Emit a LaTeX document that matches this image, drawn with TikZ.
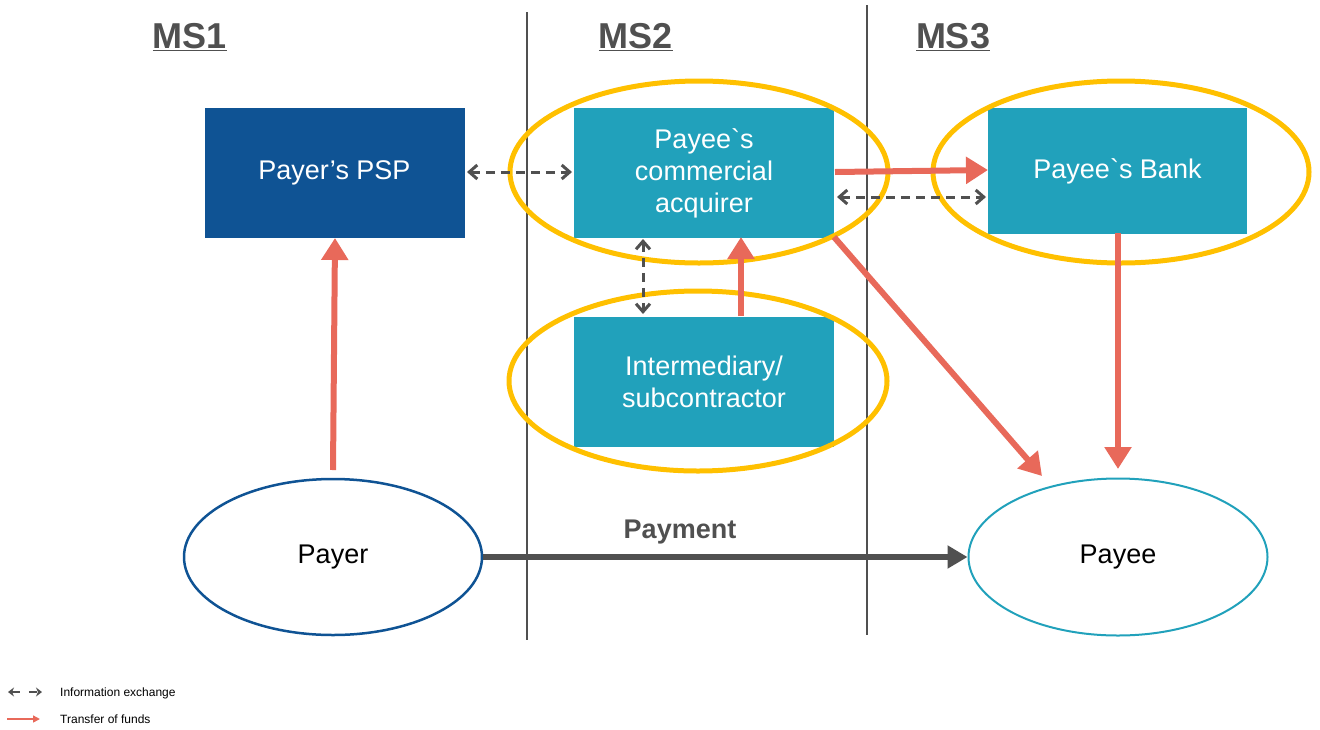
\documentclass[tikz,border=0pt]{standalone}
\usepackage{fontspec}
\setmainfont{Liberation Sans}
\newfontfamily\rawfont{Liberation Sans}
\usetikzlibrary{arrows.meta,shapes.geometric}
\definecolor{dblue}{HTML}{0F5394}
\definecolor{teal}{HTML}{21A1BB}
\definecolor{ylw}{HTML}{FFC000}
\definecolor{fund}{HTML}{E8695A}
\definecolor{dgray}{HTML}{505050}
\newcommand{\bq}{{\rawfont\symbol{96}}}
\begin{document}
\begin{tikzpicture}[x=1pt,y=-1pt,
  box/.style={draw=none,minimum width=260pt,minimum height=130pt,text=white,font=\fontsize{27}{32}\selectfont,align=center,inner sep=0pt},
  ring/.style={draw=ylw,line width=5pt},
  fundarrow/.style={draw=fund,line width=6pt,-{Triangle[length=22pt,width=26pt]}},
  infoarrow/.style={draw=dgray,line width=3pt,dashed,dash pattern=on 9pt off 6pt,{Straight Barb[length=8pt,width=14pt]}-{Straight Barb[length=8pt,width=14pt]}},
  header/.style={text=dgray,font=\bfseries\fontsize{36}{40}\selectfont,inner sep=0pt},
  sep/.style={draw=dgray,line width=1.5pt}
]
\useasboundingbox (0,0) rectangle (1320,729);
% separators
\draw[sep] (527,12) -- (527,640);
\draw[sep] (867,5) -- (867,635);
% headers
\node[header,anchor=base] (ms1) at (190,48) {\underline{MS1}};
\node[header,anchor=base] (ms2) at (636,48) {\underline{MS2}};
\node[header,anchor=base] (ms3) at (953,48) {\underline{MS3}};
% boxes
\node[box,fill=dblue] (psp) at (334.5,172.5) {Payer’s PSP};
\node[box,fill=teal] (acq) at (704,173) {Payee\bq s\\commercial\\acquirer};
\node[box,fill=teal,minimum width=259pt,minimum height=126pt] (bank) at (1117.5,171) {Payee\bq s Bank};
\node[box,fill=teal] (int) at (704,381.5) {Intermediary/\\subcontractor};
% yellow ellipses
\draw[ring] (699,172) ellipse [x radius=189, y radius=91];
\draw[ring] (1121,172) ellipse [x radius=188, y radius=91];
\draw[ring] (698,381) ellipse [x radius=189, y radius=90];
% payer/payee
\node[draw=dblue,line width=2.5pt,ellipse,minimum width=298pt,minimum height=156pt,inner sep=0pt,font=\fontsize{27}{32}\selectfont] (payer) at (333,557) {Payer};
\node[draw=teal,line width=2pt,ellipse,minimum width=299pt,minimum height=157pt,inner sep=0pt,font=\fontsize{27}{32}\selectfont] (payee) at (1118,557) {Payee};
% coordinates
\coordinate (payertop) at (333,470);
\coordinate (pspbot) at (335,238);
\coordinate (intup) at (741,316);
\coordinate (acqup) at (741,237);
\coordinate (acqr) at (835,172);
\coordinate (bankl) at (988,170);
\coordinate (acqc) at (834,237);
\coordinate (payeeA) at (1042,476);
\coordinate (bankb) at (1118,233);
\coordinate (payeeB) at (1118,469);
% fund arrows
\draw[fundarrow] (payertop) -- (pspbot);
\draw[fundarrow] (intup) -- (acqup);
\draw[fundarrow] (acqr) -- (bankl);
\draw[fundarrow] (acqc) -- (payeeA);
\draw[fundarrow] (bankb) -- (payeeB);
% info arrows
\coordinate (i1a) at (467,172);
\coordinate (i1b) at (572,172);
\coordinate (i2a) at (643,239);
\coordinate (i2b) at (643,314);
\coordinate (i3a) at (837,197);
\coordinate (i3b) at (986,197);
\draw[infoarrow] (i1a) -- (i1b);
\draw[infoarrow] (i2a) -- (i2b);
\draw[infoarrow] (i3a) -- (i3b);
% payment
\draw[dgray,line width=6pt,-{Triangle[length=20pt,width=22pt]}] (payer.east) -- (payee.west);
\node[text=dgray,font=\bfseries\fontsize{27}{32}\selectfont,anchor=base] (pay) at (680,538) {Payment};
% legend
\coordinate (l1a) at (8,692);
\coordinate (l1b) at (42,692);
\draw[dgray,line width=2.5pt,dash pattern=on 8pt off 9pt,{Stealth[length=6pt,width=9pt]}-{Stealth[length=6pt,width=9pt]}] (l1a) -- (l1b);
\node[anchor=west,font=\fontsize{12}{14}\selectfont,inner sep=0pt] (lt1) at (60,693) {Information exchange};
\coordinate (l2a) at (7,719);
\coordinate (l2b) at (40,719);
\draw[fund,line width=1.5pt,-{Triangle[length=7pt,width=7pt]}] (l2a) -- (l2b);
\node[anchor=west,font=\fontsize{12}{14}\selectfont,inner sep=0pt] (lt2) at (60,719) {Transfer of funds};
\end{tikzpicture}
\end{document}
